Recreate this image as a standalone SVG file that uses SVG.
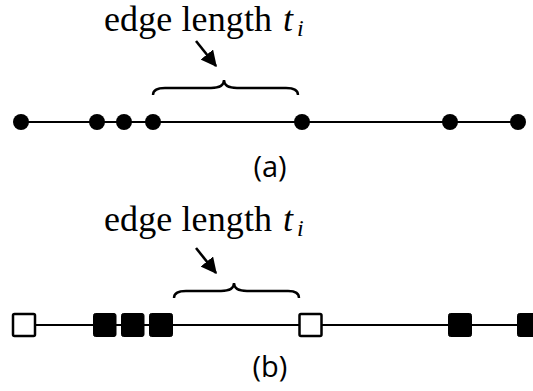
<svg xmlns="http://www.w3.org/2000/svg" width="533" height="391" viewBox="0 0 533 391">
<defs>
<style>
.edge{stroke:#000;stroke-width:2;fill:none}
.arrow{stroke:#000;stroke-width:2.6;fill:none}
.dot{fill:#000}
.sqw{fill:#fff;stroke:#000;stroke-width:2.5}
.sqb{fill:#000;stroke:#000;stroke-width:1}
.lbl{font-family:"Liberation Serif","Times New Roman",serif;font-size:36px;fill:#000}
.it{font-style:italic}
.sub{font-size:24px}
.cap{font-family:"Open Sans","Noto Sans",sans-serif;font-size:29px;fill:#000}
.brace{stroke:#000;stroke-width:2.4;fill:none}
</style>
<marker id="ahb" viewBox="0 0 12 12" refX="11" refY="6" markerWidth="16" markerHeight="16" orient="auto" markerUnits="userSpaceOnUse">
<path d="M0,0 L12,6 L0,12 z" fill="#000"/>
</marker>
</defs>
<g id="connectors">
<line class="edge" x1="21" y1="122" x2="518" y2="122"/>
<line class="edge" x1="24" y1="325" x2="533" y2="325"/>
<path class="arrow" d="M196,41 L216,66" marker-end="url(#ahb)"/>
<path class="arrow" d="M196,248 L216,273" marker-end="url(#ahb)"/>
<path class="brace" d="M153,95 Q153,88 165,88 L211,88 Q224,88 224,80 Q224,88 237,88 L286,88 Q298,88 298,95"/>
<path class="brace" d="M174,298 Q174,291 186,291 L221,291 Q234,291 234,283 Q234,291 247,291 L288,291 Q299,291 299,298"/>
</g>
<g id="label-a-title"><text class="lbl" x="104" y="31" textLength="168" lengthAdjust="spacing">edge length</text><text class="lbl it" x="283" y="31">t</text><text class="lbl it sub" x="297" y="36">i</text></g>
<g id="label-b-title"><text class="lbl" x="104" y="231" textLength="168" lengthAdjust="spacing">edge length</text><text class="lbl it" x="283" y="231">t</text><text class="lbl it sub" x="297" y="236">i</text></g>
<g id="a1"><circle class="dot" cx="21" cy="122" r="8"/></g>
<g id="a2"><circle class="dot" cx="97" cy="122" r="8"/></g>
<g id="a3"><circle class="dot" cx="124" cy="122" r="8"/></g>
<g id="a4"><circle class="dot" cx="153" cy="122" r="8"/></g>
<g id="a5"><circle class="dot" cx="302" cy="122" r="8"/></g>
<g id="a6"><circle class="dot" cx="450" cy="122" r="8"/></g>
<g id="a7"><circle class="dot" cx="518" cy="122" r="8"/></g>
<g id="b1"><rect class="sqw" x="13" y="314" width="22" height="22" rx="1.5"/></g>
<g id="b2"><rect class="sqb" x="93.5" y="313.5" width="22.5" height="23" rx="2"/></g>
<g id="b3"><rect class="sqb" x="121.5" y="313.5" width="22.5" height="23" rx="2"/></g>
<g id="b4"><rect class="sqb" x="149.5" y="313.5" width="23" height="23" rx="2"/></g>
<g id="b5"><rect class="sqw" x="299.5" y="314" width="22" height="22" rx="1.5"/></g>
<g id="b6"><rect class="sqb" x="448.5" y="313.5" width="23" height="23" rx="2"/></g>
<g id="b7"><rect class="sqb" x="517.5" y="313.5" width="23" height="23" rx="2"/></g>
<g id="caption-a"><text class="cap" x="270" y="177" text-anchor="middle">(a)</text></g>
<g id="caption-b"><text class="cap" x="270" y="377" text-anchor="middle">(b)</text></g>
</svg>
